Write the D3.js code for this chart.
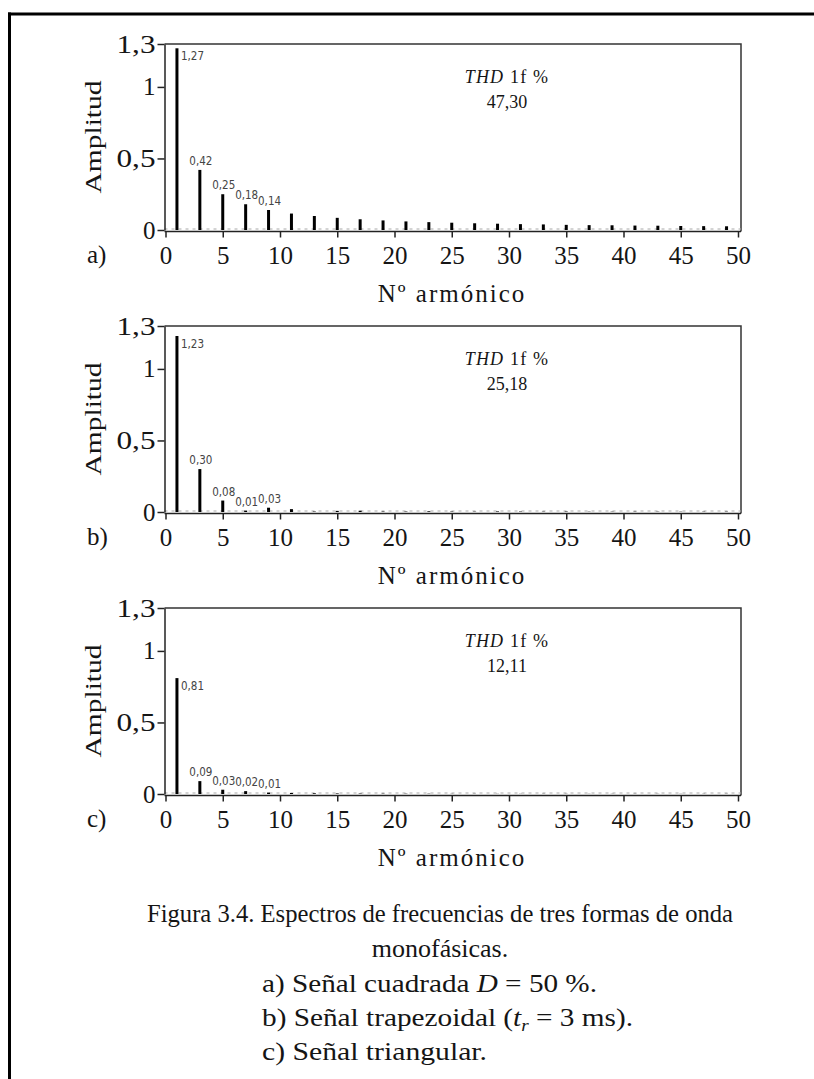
<!DOCTYPE html>
<html>
<head>
<meta charset="utf-8">
<script src="https://cdn.jsdelivr.net/npm/d3@7"></script>
<style>
body { margin: 0; background: #fff; }
text { font-family: "Liberation Serif", "Times New Roman", serif; fill: #151515; }
.val { font-family: "DejaVu Sans Condensed", "DejaVu Sans", sans-serif; font-size: 11.5px; fill: #444; }
.axis path, .axis line { stroke: #222; stroke-width: 1.5; }
</style>
</head>
<body>
<svg id="chart" width="814" height="1079"></svg>
<script>
// odd harmonics shown in each spectrum
var harmonics = [1, 3, 5, 7, 9, 11, 13, 15, 17, 19, 21, 23, 25, 27, 29, 31, 33, 35, 37, 39, 41, 43, 45, 47, 49];

// a) square wave
var ampSquare = [1.27, 0.42, 0.25, 0.18, 0.14, 0.115, 0.098, 0.085, 0.075, 0.067, 0.06, 0.055, 0.051,
                 0.047, 0.044, 0.041, 0.039, 0.036, 0.034, 0.033, 0.031, 0.03, 0.028, 0.027, 0.026];
// b) trapezoidal wave
var ampTrap = [1.23, 0.30, 0.08, 0.01, 0.03, 0.02, 0.003, 0.008, 0.009, 0.003, 0.003, 0.005, 0.003,
               0.002, 0.004, 0.003, 0.002, 0.003, 0.002, 0.002, 0.002, 0.002, 0.002, 0.002, 0.002];
// c) triangular wave
var ampTri = [0.81, 0.09, 0.03, 0.02, 0.01, 0.007, 0.005, 0.004, 0.003, 0.002, 0.002, 0.002, 0.001,
              0.001, 0.001, 0.001, 0.001, 0.001, 0.001, 0.001, 0.001, 0.001, 0.001, 0.001, 0.001];

var panelLetters = ['a)', 'b)', 'c)'];
var thdValues = ['47,30', '25,18', '12,11'];
var xTicks = [0, 5, 10, 15, 20, 25, 30, 35, 40, 45, 50];
var yTicks = [0, 0.5, 1, 1.3];
var labelCount = 5;

var svg = d3.select('#chart');

// outer frame of the figure
svg.append('line')
    .attr('x1', 8).attr('x2', 814).attr('y1', 14).attr('y2', 14)
    .style('stroke', '#000').style('stroke-width', 3);
svg.append('line')
    .attr('x1', 9.5).attr('x2', 9.5).attr('y1', 12.5).attr('y2', 1079)
    .style('stroke', '#000').style('stroke-width', 3);

function commaNum(d) {
    return String(d).replace('.', ',');
}

function drawPanel(top, values, idx) {
    var left = 164.5, right = 741, h = 186;

    var x = d3.scaleLinear().domain([0, 50]).range([165.5, 738]);
    var y = d3.scaleLinear().domain([0, 1.3]).range([top + h, top]);

    var g = svg.append('g');

    // frame (top + right)
    g.append('path')
        .attr('d', 'M' + left + ',' + top + 'H' + right + 'V' + (top + h + 1.5))
        .style('fill', 'none').style('stroke', '#333').style('stroke-width', 1.5);

    // dotted zero line
    g.append('line')
        .attr('x1', left).attr('x2', right)
        .attr('y1', y(0) - 1).attr('y2', y(0) - 1)
        .style('stroke', '#aaa').style('stroke-width', 1.2)
        .style('stroke-dasharray', '3,4');

    var yAxis = g.append('g')
        .attr('class', 'axis')
        .attr('transform', 'translate(' + left + ',0)')
        .call(d3.axisLeft(y).tickValues(yTicks).tickSize(7).tickSizeOuter(0).tickPadding(2)
            .tickFormat(commaNum));
    yAxis.selectAll('text')
        .style('font-size', '25px')
        .style('font-family', '"Liberation Serif", serif')
        .attr('fill', '#151515')
        .each(function(d) {
            if (String(d).indexOf('.') >= 0) {
                d3.select(this).attr('textLength', 39).attr('lengthAdjust', 'spacingAndGlyphs');
            }
        });

    var xAxis = g.append('g')
        .attr('class', 'axis')
        .attr('transform', 'translate(0,' + (y(0) + 1.5) + ')')
        .call(d3.axisBottom(x).tickValues(xTicks).tickSize(6).tickSizeOuter(0).tickPadding(9));
    xAxis.select('.domain').attr('d', 'M' + left + ',0H' + right);
    xAxis.selectAll('text')
        .style('font-size', '25px')
        .style('font-family', '"Liberation Serif", serif')
        .attr('fill', '#151515');

    // bars
    g.selectAll('.bar')
        .data(values)
        .enter().append('line')
            .attr('class', 'bar')
            .attr('x1', function(d, i) { return x(harmonics[i]); })
            .attr('x2', function(d, i) { return x(harmonics[i]); })
            .attr('y1', y(0))
            .attr('y2', function(d) { return y(d); })
            .style('stroke', '#000')
            .style('stroke-width', 3);

    // value labels on the first harmonics
    g.selectAll('.val')
        .data(values.slice(0, labelCount))
        .enter().append('text')
            .attr('class', 'val')
            .attr('x', function(d, i) {
                return i === 0 ? x(harmonics[i]) + 4 : x(harmonics[i]) + 1;
            })
            .attr('y', function(d, i) {
                return i === 0 ? y(d) + 12 : y(d) - 5;
            })
            .attr('text-anchor', function(d, i) { return i === 0 ? 'start' : 'middle'; })
            .text(function(d) { return d3.format('.2f')(d).replace('.', ','); });

    // THD box text
    var thd = g.append('text')
        .attr('x', 507).attr('y', top + 39)
        .attr('text-anchor', 'middle')
        .style('font-size', '18px')
        .style('letter-spacing', '1.2px');
    thd.append('tspan').style('font-style', 'italic').text('THD');
    thd.append('tspan').text(' 1f %');
    g.append('text')
        .attr('x', 507).attr('y', top + 64)
        .attr('text-anchor', 'middle')
        .style('font-size', '18px')
        .text(thdValues[idx]);

    // axis titles
    g.append('text')
        .attr('transform', 'translate(101,' + (top + 93) + ') rotate(-90)')
        .attr('text-anchor', 'middle')
        .attr('textLength', 113)
        .attr('lengthAdjust', 'spacingAndGlyphs')
        .style('font-size', '24px')
        .text('Amplitud');

    g.append('text')
        .attr('x', 452).attr('y', top + 258)
        .attr('text-anchor', 'middle')
        .style('font-size', '25px')
        .style('letter-spacing', '2px')
        .text('Nº armónico');

    g.append('text')
        .attr('x', 87).attr('y', top + 219)
        .style('font-size', '25px')
        .text(panelLetters[idx]);
}

drawPanel(44, ampSquare, 0);
drawPanel(326, ampTrap, 1);
drawPanel(608, ampTri, 2);

// caption
var cap = svg.append('g').style('font-size', '26px');
cap.append('text')
    .attr('x', 440).attr('y', 922)
    .attr('text-anchor', 'middle')
    .attr('textLength', 586).attr('lengthAdjust', 'spacingAndGlyphs')
    .text('Figura 3.4. Espectros de frecuencias de tres formas de onda');
cap.append('text')
    .attr('x', 440).attr('y', 957)
    .attr('text-anchor', 'middle')
    .text('monofásicas.');

var l3 = cap.append('text').attr('x', 262).attr('y', 992)
    .attr('textLength', 335).attr('lengthAdjust', 'spacingAndGlyphs');
l3.append('tspan').text('a) Señal cuadrada ');
l3.append('tspan').style('font-style', 'italic').text('D');
l3.append('tspan').text(' = 50 %.');

var l4 = cap.append('text').attr('x', 262).attr('y', 1026)
    .attr('textLength', 371).attr('lengthAdjust', 'spacingAndGlyphs');
l4.append('tspan').text('b) Señal trapezoidal (');
l4.append('tspan').style('font-style', 'italic').text('t');
l4.append('tspan').style('font-style', 'italic').style('font-size', '17px').attr('dy', 5).text('r');
l4.append('tspan').attr('dy', -5).text(' = 3 ms).');

cap.append('text').attr('x', 262).attr('y', 1060)
    .attr('textLength', 225).attr('lengthAdjust', 'spacingAndGlyphs')
    .text('c) Señal triangular.');
</script>
</body>
</html>
